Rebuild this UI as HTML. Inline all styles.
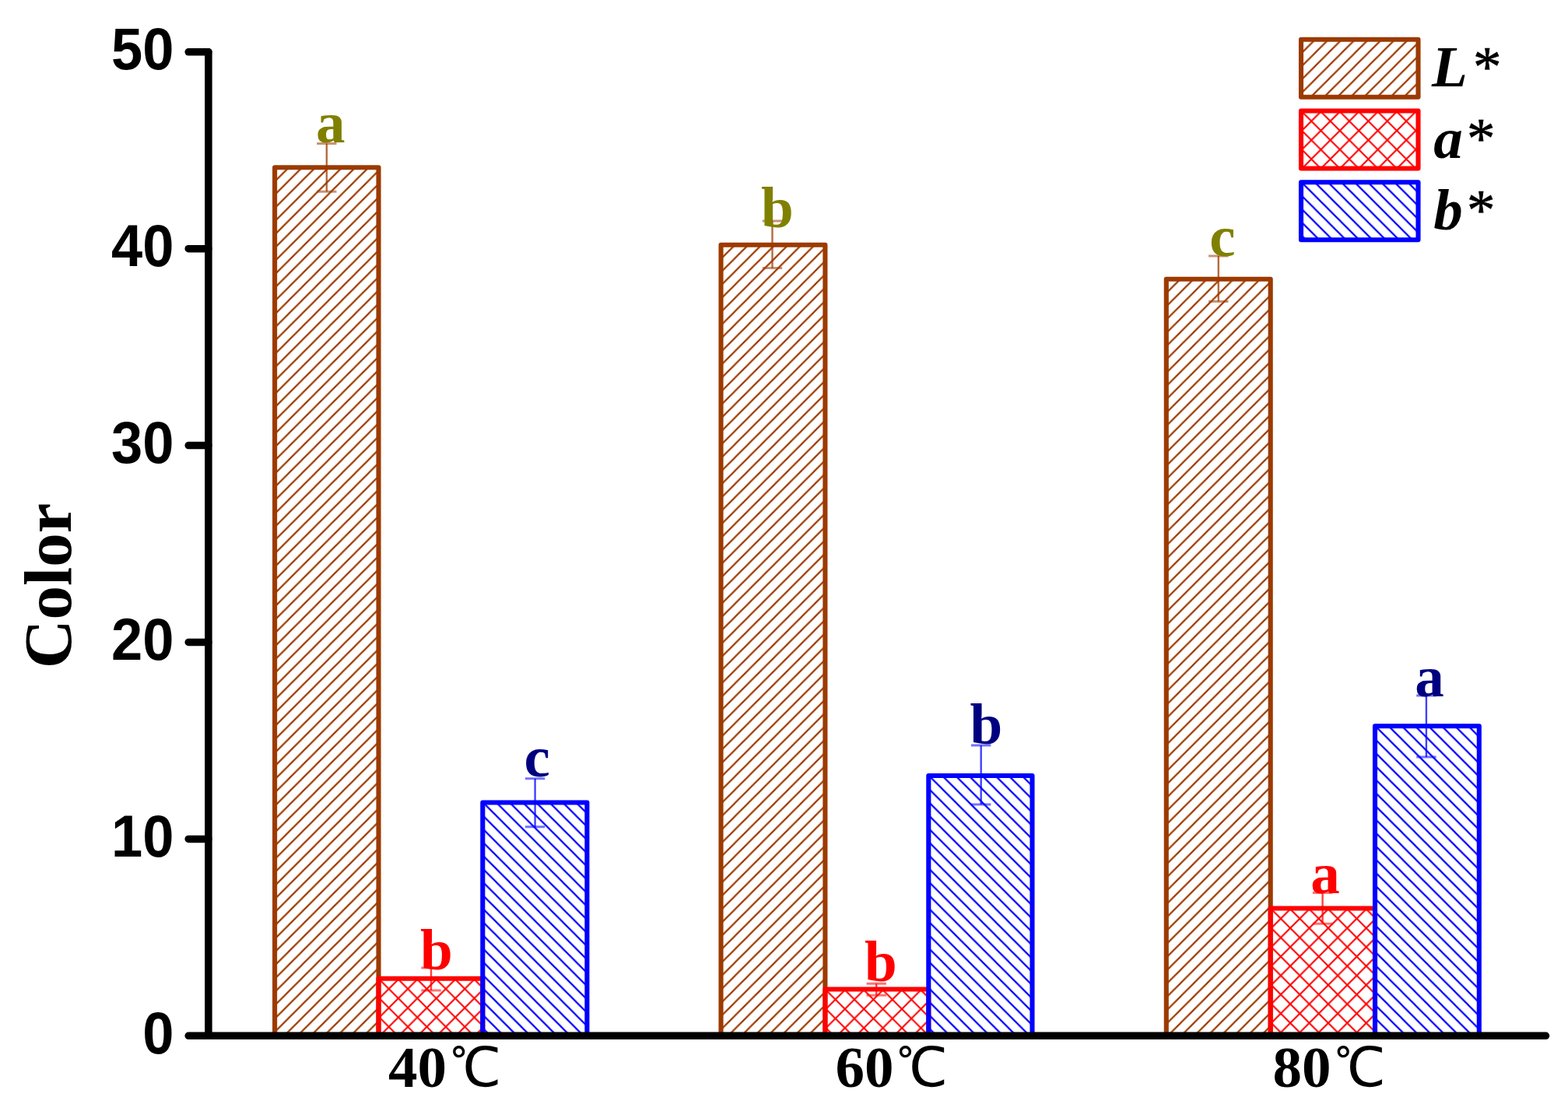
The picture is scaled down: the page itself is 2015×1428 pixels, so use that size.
<!DOCTYPE html>
<html lang="en"><head><meta charset="utf-8"><title>Color chart</title>
<style>
html,body{margin:0;padding:0;background:#fff;}
body{width:2015px;height:1428px;overflow:hidden;}
svg{display:block;filter:blur(0.6px);}
.sans{font-family:"Liberation Sans",sans-serif;font-weight:700;}
.serif{font-family:"Liberation Serif",serif;font-weight:700;}
.cjk{font-family:"WenQuanYi Zen Hei","Noto Sans CJK SC",sans-serif;font-weight:400;}
.bi{font-family:"Liberation Serif",serif;font-weight:700;font-style:italic;}
.ast{font-family:"Liberation Serif",serif;font-weight:400;font-style:normal;stroke:#000;stroke-width:0.7px;}
</style></head><body>
<svg width="2015" height="1428" viewBox="0 0 2015 1428" role="img" aria-label="Bar chart of colour values L*, a* and b* at 40, 60 and 80 degrees Celsius">
<defs>
<pattern id="h0" patternUnits="userSpaceOnUse" x="12.50" y="10.24" width="17.08" height="17.08"><path d="M0 17.08 L17.08 0 M-8.54 8.54 L8.54 -8.54 M8.54 25.62 L25.62 8.54" stroke="#9c3a00" stroke-width="2.2" fill="none"/></pattern>
<pattern id="h1" patternUnits="userSpaceOnUse" x="23.90" y="14.40" width="24.4" height="24.4"><path d="M0 0 L24.4 24.4 M0 24.4 L24.4 0" stroke="#ff0000" stroke-width="2.1" fill="none"/></pattern>
<pattern id="h2" patternUnits="userSpaceOnUse" x="5.92" y="6.70" width="17.08" height="17.08"><path d="M0 0 L17.08 17.08 M-8.54 8.54 L8.54 25.62 M8.54 -8.54 L25.62 8.54" stroke="#0000ff" stroke-width="2.2" fill="none"/></pattern>
<pattern id="h3" patternUnits="userSpaceOnUse" x="5.18" y="7.26" width="17.08" height="17.08"><path d="M0 17.08 L17.08 0 M-8.54 8.54 L8.54 -8.54 M8.54 25.62 L25.62 8.54" stroke="#9c3a00" stroke-width="2.2" fill="none"/></pattern>
<pattern id="h4" patternUnits="userSpaceOnUse" x="12.20" y="3.70" width="24.4" height="24.4"><path d="M0 0 L24.4 24.4 M0 24.4 L24.4 0" stroke="#ff0000" stroke-width="2.1" fill="none"/></pattern>
<pattern id="h5" patternUnits="userSpaceOnUse" x="15.28" y="6.36" width="17.08" height="17.08"><path d="M0 0 L17.08 17.08 M-8.54 8.54 L8.54 25.62 M8.54 -8.54 L25.62 8.54" stroke="#0000ff" stroke-width="2.2" fill="none"/></pattern>
<pattern id="h6" patternUnits="userSpaceOnUse" x="13.84" y="0.02" width="17.08" height="17.08"><path d="M0 17.08 L17.08 0 M-8.54 8.54 L8.54 -8.54 M8.54 25.62 L25.62 8.54" stroke="#9c3a00" stroke-width="2.2" fill="none"/></pattern>
<pattern id="h7" patternUnits="userSpaceOnUse" x="23.30" y="21.70" width="24.4" height="24.4"><path d="M0 0 L24.4 24.4 M0 24.4 L24.4 0" stroke="#ff0000" stroke-width="2.1" fill="none"/></pattern>
<pattern id="h8" patternUnits="userSpaceOnUse" x="8.26" y="10.98" width="17.08" height="17.08"><path d="M0 0 L17.08 17.08 M-8.54 8.54 L8.54 25.62 M8.54 -8.54 L25.62 8.54" stroke="#0000ff" stroke-width="2.2" fill="none"/></pattern>
<pattern id="g0" patternUnits="userSpaceOnUse" x="16.24" y="16.64" width="17.08" height="17.08"><path d="M0 17.08 L17.08 0 M-8.54 8.54 L8.54 -8.54 M8.54 25.62 L25.62 8.54" stroke="#9c3a00" stroke-width="2.2" fill="none"/></pattern>
<pattern id="g1" patternUnits="userSpaceOnUse" x="13.80" y="21.50" width="24.4" height="24.4"><path d="M0 0 L24.4 24.4 M0 24.4 L24.4 0" stroke="#ff0000" stroke-width="2.1" fill="none"/></pattern>
<pattern id="g2" patternUnits="userSpaceOnUse" x="15.74" y="12.16" width="17.08" height="17.08"><path d="M0 0 L17.08 17.08 M-8.54 8.54 L8.54 25.62 M8.54 -8.54 L25.62 8.54" stroke="#0000ff" stroke-width="2.2" fill="none"/></pattern>
</defs>
<rect x="0" y="0" width="2015" height="1428" fill="#ffffff"/>
<g stroke-linejoin="round">
<rect x="353.1" y="215.2" width="133.4" height="1116.1" fill="url(#h0)" stroke="#9c3a00" stroke-width="6.1"/>
<rect x="486.5" y="1257.8" width="133.8" height="73.5" fill="url(#h1)" stroke="#ff0000" stroke-width="6.1"/>
<rect x="620.3" y="1031.5" width="134.1" height="299.8" fill="url(#h2)" stroke="#0000ff" stroke-width="6.1"/>
<rect x="926.5" y="314.7" width="133.9" height="1016.6" fill="url(#h3)" stroke="#9c3a00" stroke-width="6.1"/>
<rect x="1060.4" y="1271.5" width="132.9" height="59.8" fill="url(#h4)" stroke="#ff0000" stroke-width="6.1"/>
<rect x="1193.3" y="997.0" width="133.2" height="334.3" fill="url(#h5)" stroke="#0000ff" stroke-width="6.1"/>
<rect x="1498.8" y="358.7" width="133.9" height="972.6" fill="url(#h6)" stroke="#9c3a00" stroke-width="6.1"/>
<rect x="1632.7" y="1167.5" width="134.3" height="163.8" fill="url(#h7)" stroke="#ff0000" stroke-width="6.1"/>
<rect x="1767.0" y="933.3" width="133.8" height="398.0" fill="url(#h8)" stroke="#0000ff" stroke-width="6.1"/>
</g>
<g fill="none">
<path d="M419.8 184.6 V246.2" stroke="#9c3a00" stroke-width="2.4" stroke-opacity="0.75"/>
<path d="M407.1 184.6 H432.5 M407.1 246.2 H432.5" stroke="#9c3a00" stroke-width="3" stroke-opacity="0.55"/>
<path d="M554.0 1244.1 V1272.9" stroke="#ff0000" stroke-width="2.4" stroke-opacity="0.75"/>
<path d="M541.3 1244.1 H566.7 M541.3 1272.9 H566.7" stroke="#ff0000" stroke-width="3" stroke-opacity="0.55"/>
<path d="M687.6 1000.8 V1062.8" stroke="#0000ff" stroke-width="2.4" stroke-opacity="0.75"/>
<path d="M674.9 1000.8 H700.3 M674.9 1062.8 H700.3" stroke="#0000ff" stroke-width="3" stroke-opacity="0.55"/>
<path d="M992.5 284.0 V344.6" stroke="#9c3a00" stroke-width="2.4" stroke-opacity="0.75"/>
<path d="M979.8 284.0 H1005.2 M979.8 344.6 H1005.2" stroke="#9c3a00" stroke-width="3" stroke-opacity="0.55"/>
<path d="M1126.2 1264.3 V1279.3" stroke="#ff0000" stroke-width="2.4" stroke-opacity="0.75"/>
<path d="M1113.5 1264.3 H1138.9 M1113.5 1279.3 H1138.9" stroke="#ff0000" stroke-width="3" stroke-opacity="0.55"/>
<path d="M1260.7 958.1 V1034.0" stroke="#0000ff" stroke-width="2.4" stroke-opacity="0.75"/>
<path d="M1248.0 958.1 H1273.4 M1248.0 1034.0 H1273.4" stroke="#0000ff" stroke-width="3" stroke-opacity="0.55"/>
<path d="M1565.8 329.0 V387.5" stroke="#9c3a00" stroke-width="2.4" stroke-opacity="0.75"/>
<path d="M1553.1 329.0 H1578.5 M1553.1 387.5 H1578.5" stroke="#9c3a00" stroke-width="3" stroke-opacity="0.55"/>
<path d="M1699.6 1147.5 V1187.2" stroke="#ff0000" stroke-width="2.4" stroke-opacity="0.75"/>
<path d="M1686.9 1147.5 H1712.3 M1686.9 1187.2 H1712.3" stroke="#ff0000" stroke-width="3" stroke-opacity="0.55"/>
<path d="M1832.9 894.0 V973.0" stroke="#0000ff" stroke-width="2.4" stroke-opacity="0.75"/>
<path d="M1820.2 894.0 H1845.6 M1820.2 973.0 H1845.6" stroke="#0000ff" stroke-width="3" stroke-opacity="0.55"/>
</g>
<g class="serif" font-size="75">
<text x="406.1" y="183.0" fill="#808000">a</text>
<text x="540.0" y="1246.4" fill="#ff0000">b</text>
<text x="673.4" y="997.5" fill="#000080">c</text>
<text x="977.9" y="291.5" fill="#808000">b</text>
<text x="1111.0" y="1260.6" fill="#ff0000">b</text>
<text x="1246.5" y="956.2" fill="#000080">b</text>
<text x="1554.2" y="329.0" fill="#808000">c</text>
<text x="1684.3" y="1147.9" fill="#ff0000">a</text>
<text x="1818.2" y="895.3" fill="#000080">a</text>
</g>
<g stroke="#000" stroke-width="9.5" stroke-linecap="round" fill="none">
<path d="M267.9 66.8 V1331.3"/>
<path d="M242.2 1331.3 H1986.5"/>
<path d="M242.2 1078.4 H267.9"/>
<path d="M242.2 825.5 H267.9"/>
<path d="M242.2 572.6 H267.9"/>
<path d="M242.2 319.7 H267.9"/>
<path d="M242.2 66.8 H267.9"/>
</g>
<g class="sans" font-size="76.5" text-anchor="end" fill="#000">
<text transform="translate(223.4 1353.7) scale(0.945 1)">0</text>
<text transform="translate(223.4 1100.8) scale(0.945 1)">10</text>
<text transform="translate(223.4 847.9) scale(0.945 1)">20</text>
<text transform="translate(223.4 595.0) scale(0.945 1)">30</text>
<text transform="translate(223.4 342.1) scale(0.945 1)">40</text>
<text transform="translate(223.4 89.2) scale(0.945 1)">50</text>
</g>
<text class="serif" font-size="87" fill="#000" text-anchor="middle" transform="translate(90.5 753) rotate(-90)">Color</text>
<g class="serif" font-size="75" fill="#000">
<text x="499.0" y="1396.5">40<tspan class="cjk" font-size="70" x="578.7" y="1396">℃</tspan></text>
<text x="1073.5" y="1396.5">60<tspan class="cjk" font-size="70" x="1152.6" y="1396">℃</tspan></text>
<text x="1635.5" y="1396.5">80<tspan class="cjk" font-size="70" x="1715.2" y="1396">℃</tspan></text>
</g>
<rect x="1672.0" y="50.8" width="150.5" height="74.0" fill="url(#g0)" stroke="#9c3a00" stroke-width="6.1" stroke-linejoin="round"/>
<text class="bi" font-size="75" fill="#000" x="1840.0" y="111.1">L<tspan class="ast" font-size="73" x="1893.1">*</tspan></text>
<rect x="1672.0" y="142.5" width="150.5" height="74.0" fill="url(#g1)" stroke="#ff0000" stroke-width="6.1" stroke-linejoin="round"/>
<text class="bi" font-size="75" fill="#000" x="1842.2" y="203.3">a<tspan class="ast" font-size="73" x="1885.1">*</tspan></text>
<rect x="1672.0" y="234.2" width="150.5" height="74.0" fill="url(#g2)" stroke="#0000ff" stroke-width="6.1" stroke-linejoin="round"/>
<text class="bi" font-size="75" fill="#000" x="1842.2" y="295.2">b<tspan class="ast" font-size="73" x="1885.1">*</tspan></text>
</svg>
</body></html>
